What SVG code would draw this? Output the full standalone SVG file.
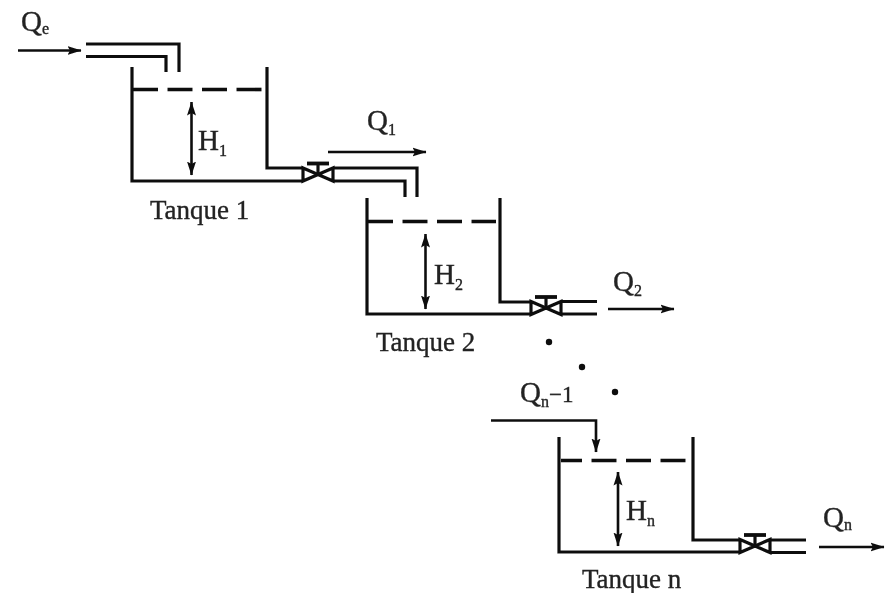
<svg xmlns="http://www.w3.org/2000/svg" width="891" height="593" viewBox="0 0 891 593">
<style>
.l{fill:none;stroke:#111;stroke-width:3.2;stroke-linejoin:miter}
.a{fill:none;stroke:#111;stroke-width:2.6}
.d{fill:none;stroke:#111;stroke-width:3.6;stroke-dasharray:25 9.5}
.t{font-family:"Liberation Serif","Times New Roman",serif;font-size:27px;fill:#222;stroke:#222;stroke-width:.35}
.b{font-size:29px}
.s{font-size:16px}
</style>
<defs>
<marker id="h" viewBox="0 0 14 10" refX="13.500" refY="5" markerWidth="14" markerHeight="10" markerUnits="userSpaceOnUse" orient="auto-start-reverse"><path d="M0 0.500L14 5L0 9.500L2.500 5Z" fill="#111"/></marker>
<g id="valve">
<path class="l" d="M-15-6.500L0 0L15-6.500V6.500L0 0L-15 6.500Z" style="stroke-width:3.200"/>
<path class="l" d="M0 0V-11" />
<path class="l" d="M-11-11H11" style="stroke-width:3.800"/>
</g>
<filter id="b" x="-5%" y="-5%" width="110%" height="110%"><feGaussianBlur stdDeviation="0.6"/></filter>
</defs>
<g filter="url(#b)">
<g id="connectors">
<path class="a" d="M18 50.500H81" marker-end="url(#h)"/>
<path class="l" d="M86 44H179V72"/>
<path class="l" d="M86 56.500H166V72"/>
<path class="a" d="M328 152H426" marker-end="url(#h)"/>
<path class="l" d="M334 168H417V197"/>
<path class="l" d="M334 181H405V197"/>
<path class="a" d="M608 309H674" marker-end="url(#h)"/>
<path class="a" d="M491 420.500H596V452" marker-end="url(#h)"/>
<path class="a" d="M819 547H884" marker-end="url(#h)"/>
</g>
<g id="tanque1">
<path class="l" d="M132 67V181H303"/>
<path class="l" d="M267 67V168H303"/>
<path class="d" d="M133 89.500H263"/>
<path class="a" d="M191.500 102V175" marker-start="url(#h)" marker-end="url(#h)"/>
<use href="#valve" x="318" y="174.500"/>
<text class="t" x="150" y="219">Tanque 1</text>
<text class="t b" x="198" y="150">H<tspan class="s" dy="6">1</tspan></text>
</g>
<g id="tanque2">
<path class="l" d="M367 198V314H531"/>
<path class="l" d="M500 198V302H531"/>
<path class="l" d="M561 301.500H597M561 314H597"/>
<path class="d" d="M368 221.500H496"/>
<path class="a" d="M425.500 234V309" marker-start="url(#h)" marker-end="url(#h)"/>
<use href="#valve" x="546" y="308"/>
<text class="t" x="376" y="351">Tanque 2</text>
<text class="t b" x="434" y="284">H<tspan class="s" dy="6">2</tspan></text>
</g>
<g id="dots" fill="#111">
<circle cx="549" cy="342" r="3.200"/>
<circle cx="582" cy="367" r="3.200"/>
<circle cx="615" cy="392" r="3.200"/>
</g>
<g id="tanquen">
<path class="l" d="M559 437V552H739"/>
<path class="l" d="M693 437V540H739"/>
<path class="l" d="M771 540H806M771 552.500H806"/>
<path class="d" d="M561 460.500H689" style="stroke-dashoffset:4"/>
<path class="a" d="M618 472V546" marker-start="url(#h)" marker-end="url(#h)"/>
<use href="#valve" x="755" y="546"/>
<text class="t" x="582" y="588">Tanque n</text>
<text class="t b" x="626" y="520">H<tspan class="s" dy="6">n</tspan></text>
</g>
<g id="labels">
<text class="t b" x="21" y="31">Q<tspan class="s" dy="3">e</tspan></text>
<text class="t b" x="367" y="130">Q<tspan class="s" dy="5">1</tspan></text>
<text class="t b" x="613" y="291">Q<tspan class="s" dy="5">2</tspan></text>
<text class="t b" x="520" y="402">Q<tspan class="s" dy="5">n</tspan><tspan dy="-5" style="font-size:23px">−1</tspan></text>
<text class="t b" x="823" y="527">Q<tspan class="s" dy="3">n</tspan></text>
</g>
</g>
</svg>
